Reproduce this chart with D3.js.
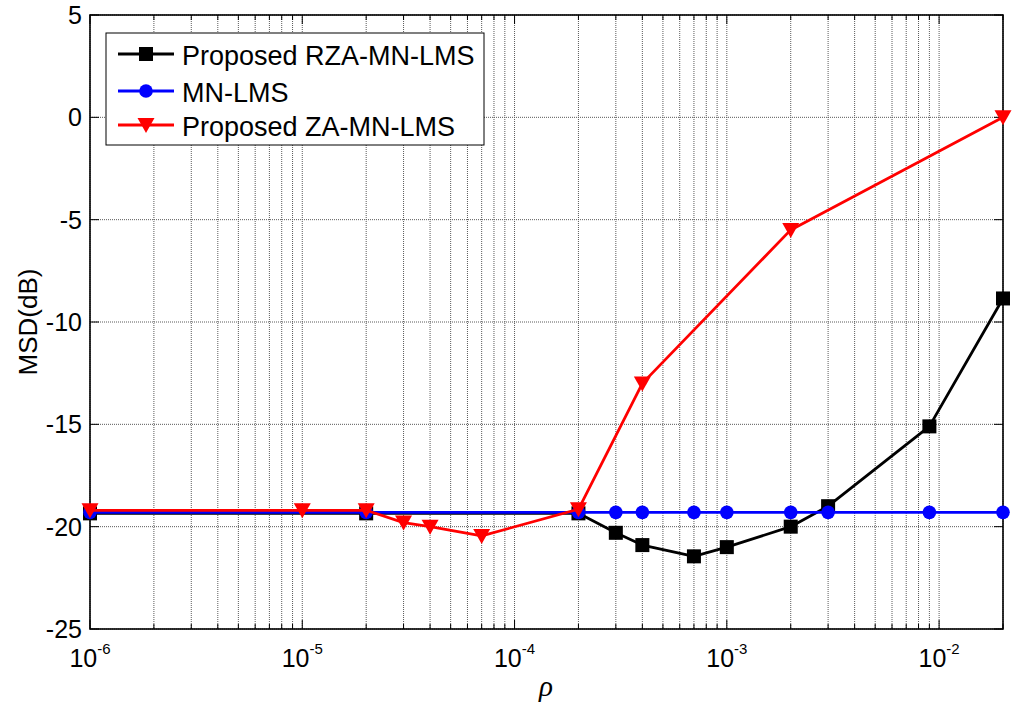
<!DOCTYPE html>
<html>
<head>
<meta charset="utf-8">
<script src="https://cdn.jsdelivr.net/npm/d3@7"></script>
<style>
  body { margin: 0; background: #fff; }
  svg { display: block; font-family: "Liberation Sans", Arial, sans-serif; }
</style>
</head>
<body>
<svg id="chart" width="1014" height="707"></svg>
<script>
// Step-size parameter values (rho) and MSD results in dB
const rhoRZA = [1e-6, 2e-5, 2e-4, 3e-4, 4e-4, 7e-4, 1e-3, 2e-3, 3e-3, 9e-3, 2e-2];
const msdRZA = [-19.35, -19.35, -19.35, -20.3, -20.9, -21.45, -21.0, -20.0, -19.0, -15.1, -8.85];

const rhoMN = [1e-6, 2e-5, 2e-4, 3e-4, 4e-4, 7e-4, 1e-3, 2e-3, 3e-3, 9e-3, 2e-2];
const msdMN = [-19.3, -19.3, -19.3, -19.3, -19.3, -19.3, -19.3, -19.3, -19.3, -19.3, -19.3];

const rhoZA = [1e-6, 1e-5, 2e-5, 3e-5, 4e-5, 7e-5, 2e-4, 4e-4, 2e-3, 2e-2];
const msdZA = [-19.2, -19.2, -19.2, -19.8, -20.0, -20.45, -19.15, -13.0, -5.5, 0.0];

const seriesNames = ["Proposed RZA-MN-LMS", "MN-LMS", "Proposed ZA-MN-LMS"];
const seriesColors = ["#000000", "#0000ff", "#ff0000"];
const seriesMarkers = ["square", "circle", "triangleDown"];

const xDecades = [1e-6, 1e-5, 1e-4, 1e-3, 1e-2];
const xDecadeExp = ["-6", "-5", "-4", "-3", "-2"];
const yTicks = [5, 0, -5, -10, -15, -20, -25];

const svg = d3.select("#chart");
const L = 90, R = 1003, T = 15, B = 629;

const x = d3.scaleLog().domain([1e-6, 2e-2]).range([L, R]);
const y = d3.scaleLinear().domain([-25, 5]).range([B, T]);

// minor positions (2..9 times each decade) within the domain
const minor = [];
xDecades.forEach(d => { for (let k = 2; k <= 9; k++) { const v = d * k; if (v <= 2e-2 + 1e-12) minor.push(v); } });

// dotted grid
const grid = svg.append("g").attr("stroke", "#5a5a5a").attr("stroke-width", 1).attr("stroke-dasharray", "1,1");
grid.selectAll("line.vx").data(xDecades.concat(minor)).enter().append("line")
  .attr("x1", d => x(d)).attr("x2", d => x(d)).attr("y1", T).attr("y2", B);
grid.selectAll("line.hy").data(yTicks).enter().append("line")
  .attr("x1", L).attr("x2", R).attr("y1", d => y(d)).attr("y2", d => y(d));

// ticks (inside, on all four sides)
const ticks = svg.append("g").attr("stroke", "#000").attr("stroke-width", 1);
xDecades.forEach(d => {
  ticks.append("line").attr("x1", x(d)).attr("x2", x(d)).attr("y1", B).attr("y2", B - 9);
  ticks.append("line").attr("x1", x(d)).attr("x2", x(d)).attr("y1", T).attr("y2", T + 9);
});
minor.forEach(d => {
  ticks.append("line").attr("x1", x(d)).attr("x2", x(d)).attr("y1", B).attr("y2", B - 5);
  ticks.append("line").attr("x1", x(d)).attr("x2", x(d)).attr("y1", T).attr("y2", T + 5);
});
yTicks.forEach(d => {
  ticks.append("line").attr("x1", L).attr("x2", L + 9).attr("y1", y(d)).attr("y2", y(d));
  ticks.append("line").attr("x1", R).attr("x2", R - 9).attr("y1", y(d)).attr("y2", y(d));
});

// frame
svg.append("rect").attr("x", L).attr("y", T).attr("width", R - L).attr("height", B - T)
  .attr("fill", "none").attr("stroke", "#000").attr("stroke-width", 1.6);

// y tick labels
svg.append("g").selectAll("text").data(yTicks).enter().append("text")
  .attr("x", L - 8).attr("y", d => y(d)).attr("dy", "0.36em")
  .attr("text-anchor", "end").attr("font-size", 25).text(d => d);

// x tick labels: 10 with superscript exponent
const xl = svg.append("g");
xDecades.forEach((d, i) => {
  const t = xl.append("text").attr("x", x(d)).attr("y", 667).attr("font-size", 25).attr("text-anchor", "middle");
  t.append("tspan").text("10");
  t.append("tspan").attr("font-size", 15).attr("dy", -13).text(xDecadeExp[i]);
});

// axis titles
svg.append("text").attr("transform", `translate(37,${(T + B) / 2}) rotate(-90)`)
  .attr("text-anchor", "middle").attr("font-size", 26).text("MSD(dB)");
svg.append("text").attr("x", 546).attr("y", 696).attr("text-anchor", "middle")
  .attr("font-family", "'Liberation Serif', 'Times New Roman', serif").attr("font-style", "italic")
  .attr("font-size", 29).text("ρ");

// markers
function drawMarker(g, kind, cx, cy, color) {
  if (kind === "square") {
    g.append("rect").attr("x", cx - 7).attr("y", cy - 7).attr("width", 14).attr("height", 14).attr("fill", color);
  } else if (kind === "circle") {
    g.append("circle").attr("cx", cx).attr("cy", cy).attr("r", 6.8).attr("fill", color);
  } else {
    g.append("path").attr("d", `M${cx - 8.5},${cy - 7}L${cx + 8.5},${cy - 7}L${cx},${cy + 8}Z`).attr("fill", color);
  }
}

const line = d3.line().x(d => x(d[0])).y(d => y(d[1]));
const allSeries = [[rhoRZA, msdRZA], [rhoMN, msdMN], [rhoZA, msdZA]];
allSeries.forEach((s, i) => {
  const pts = s[0].map((r, j) => [r, s[1][j]]);
  const g = svg.append("g");
  g.append("path").datum(pts).attr("d", line).attr("fill", "none")
    .attr("stroke", seriesColors[i]).attr("stroke-width", 2.8).attr("stroke-linejoin", "round");
  pts.forEach(p => drawMarker(g, seriesMarkers[i], x(p[0]), y(p[1]), seriesColors[i]));
});

// legend
const lg = svg.append("g");
lg.append("rect").attr("x", 106).attr("y", 33).attr("width", 378).attr("height", 112)
  .attr("fill", "#fff").attr("stroke", "#000").attr("stroke-width", 1);
const rowY = [54, 91, 125];
seriesNames.forEach((name, i) => {
  lg.append("line").attr("x1", 118).attr("x2", 174).attr("y1", rowY[i]).attr("y2", rowY[i])
    .attr("stroke", seriesColors[i]).attr("stroke-width", 2.8);
  drawMarker(lg, seriesMarkers[i], 146, rowY[i], seriesColors[i]);
  lg.append("text").attr("x", 182).attr("y", rowY[i] + 1).attr("dy", "0.36em")
    .attr("font-size", 27).text(name);
});
</script>
</body>
</html>
